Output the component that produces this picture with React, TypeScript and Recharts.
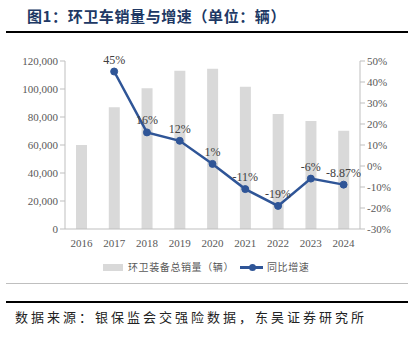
import React from "react";
import {
  ComposedChart,
  Bar,
  Line,
  XAxis,
  YAxis,
  LabelList,
} from "recharts";

const years = ["2016", "2017", "2018", "2019", "2020", "2021", "2022", "2023", "2024"];
const sales = [60000, 86900, 100500, 113100, 114500, 101600, 82100, 77100, 70200];
const growth: (number | null)[] = [null, 45, 16, 12, 1, -11, -19, -6, -8.87];
const growthLabels = ["", "45%", "16%", "12%", "1%", "-11%", "-19%", "-6%", "-8.87%"];
const leftTicks = [0, 20000, 40000, 60000, 80000, 100000, 120000];
const rightTicks = [-30, -20, -10, 0, 10, 20, 30, 40, 50];

const data = years.map((y, i) => ({
  year: y,
  sales: sales[i],
  growth: growth[i],
  label: growthLabels[i],
}));

const SERIF = "'Liberation Serif', 'Times New Roman', serif";
const CJK = "'Noto Sans CJK SC', sans-serif";
const BLUE = "#2F5597";
const GRAY_BAR = "#D9D9D9";
const AXIS = "#BFBFBF";
const TICK_TEXT = "#595959";

export default function App() {
  return (
    <div style={{ position: "absolute", left: 0, top: 0, width: 414, height: 340, background: "#fff" }}>
      <div
        style={{
          position: "absolute",
          left: 27,
          top: 6,
          fontFamily: CJK,
          fontWeight: 700,
          fontSize: 15,
          letterSpacing: 0.6,
          color: "#203864",
          whiteSpace: "nowrap",
          lineHeight: "20px",
        }}
      >
        图1：环卫车销量与增速（单位：辆）
      </div>
      <div style={{ position: "absolute", left: 6, top: 31, width: 402, height: 2, background: "#000" }} />

      <div style={{ position: "absolute", left: 0, top: 0, fontFamily: SERIF }}>
        <ComposedChart
          width={414}
          height={340}
          data={data}
          style={{ fontFamily: SERIF }}
          margin={{ top: 61, right: 0, bottom: 81, left: 0 }}
        >
          <XAxis
            dataKey="year"
            tickLine={false}
            axisLine={{ stroke: AXIS }}
            tick={{ fill: TICK_TEXT, fontSize: 11, fontFamily: SERIF }}
            tickMargin={4}
            height={30}
            interval={0}
          />
          <YAxis
            yAxisId="left"
            orientation="left"
            width={65}
            domain={[0, 120000]}
            ticks={leftTicks}
            tickFormatter={(v: number) => v.toLocaleString("en-US")}
            axisLine={{ stroke: AXIS }}
            tickLine={{ stroke: AXIS }}
            tickSize={5}
            tickMargin={2}
            tick={{ fill: TICK_TEXT, fontSize: 11, fontFamily: SERIF }}
          />
          <YAxis
            yAxisId="right"
            orientation="right"
            width={54}
            domain={[-30, 50]}
            ticks={rightTicks}
            tickFormatter={(v: number) => `${v}%`}
            axisLine={{ stroke: AXIS }}
            tickLine={{ stroke: AXIS }}
            tickSize={5}
            tickMargin={2}
            tick={{ fill: TICK_TEXT, fontSize: 11, fontFamily: SERIF }}
          />
          <Bar
            yAxisId="left"
            dataKey="sales"
            fill={GRAY_BAR}
            barSize={11}
            isAnimationActive={false}
          />
          <Line
            yAxisId="right"
            dataKey="growth"
            stroke={BLUE}
            strokeWidth={2.5}
            dot={{ r: 3.5, fill: BLUE, stroke: BLUE, strokeWidth: 1 }}
            connectNulls={false}
            isAnimationActive={false}
          >
            <LabelList
              dataKey="label"
              position="top"
              offset={8}
              style={{ fill: "#404040", fontSize: 12, fontFamily: SERIF }}
            />
          </Line>
        </ComposedChart>
      </div>

      {/* legend */}
      <div style={{ position: "absolute", left: 103, top: 264, width: 20, height: 7, background: GRAY_BAR }} />
      <div
        style={{
          position: "absolute",
          left: 128,
          top: 259,
          fontFamily: CJK,
          fontSize: 10,
          letterSpacing: 0.6,
          color: TICK_TEXT,
          whiteSpace: "nowrap",
          lineHeight: "16px",
        }}
      >
        环卫装备总销量（辆）
      </div>
      <div style={{ position: "absolute", left: 240, top: 266, width: 23, height: 2.5, background: BLUE }} />
      <div
        style={{
          position: "absolute",
          left: 248.5,
          top: 264,
          width: 7,
          height: 7,
          borderRadius: "50%",
          background: BLUE,
        }}
      />
      <div
        style={{
          position: "absolute",
          left: 267,
          top: 259,
          fontFamily: CJK,
          fontSize: 10,
          letterSpacing: 0.6,
          color: TICK_TEXT,
          whiteSpace: "nowrap",
          lineHeight: "16px",
        }}
      >
        同比增速
      </div>

      <div style={{ position: "absolute", left: 6, top: 283, width: 402, height: 1, background: AXIS }} />
      <div style={{ position: "absolute", left: 6, top: 301, width: 402, height: 2, background: "#000" }} />
      <div
        style={{
          position: "absolute",
          left: 15,
          top: 308,
          fontFamily: CJK,
          fontSize: 13,
          letterSpacing: 3,
          color: "#222",
          whiteSpace: "nowrap",
          lineHeight: "18px",
        }}
      >
        数据来源：银保监会交强险数据，东吴证券研究所
      </div>
    </div>
  );
}
